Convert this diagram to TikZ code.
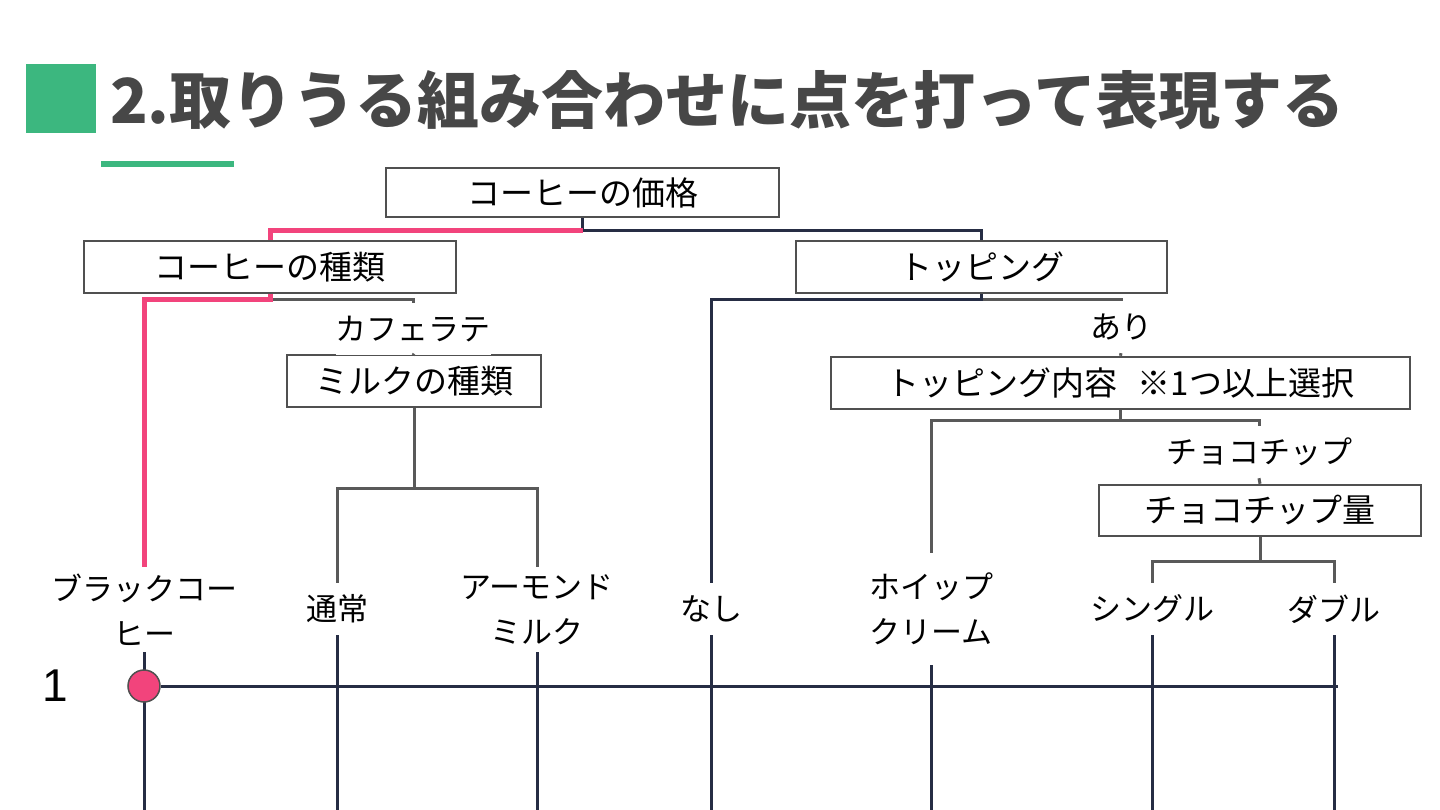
\documentclass[tikz,border=0pt]{standalone}
\usepackage{fontspec}
\setmainfont{Noto Sans CJK JP}
\newfontfamily\digitfont{Liberation Sans}
\definecolor{brandgreen}{HTML}{3CB77F}
\definecolor{titlegray}{HTML}{474747}
\definecolor{boxgray}{HTML}{505050}
\definecolor{treegray}{HTML}{595959}
\definecolor{navy}{HTML}{262D44}
\definecolor{hotpink}{HTML}{F2447C}
\begin{document}
\begin{tikzpicture}[x=1pt, y=-1pt,
	box/.style={draw=boxgray, line width=2.5pt, fill=white, minimum height=52pt, inner sep=0pt, font=\fontsize{33}{40}\selectfont},
	lbl/.style={fill=white, inner sep=0pt, minimum height=52pt, align=center, font=\fontsize{31}{45}\selectfont},
	tree/.style={draw=treegray, line width=3pt},
	gridline/.style={draw=navy, line width=3pt},
	pick/.style={draw=hotpink, line width=5pt},
	dot/.style={circle, fill=hotpink, draw=boxgray, line width=1.5pt, minimum size=32pt, inner sep=0pt}]
		\useasboundingbox (0,0) rectangle (1440,810);
		\fill[brandgreen] (26,64) rectangle (96,133);
		\fill[brandgreen] (101,161) rectangle (234,167);
		\node[anchor=west, inner sep=0pt, text=titlegray, font=\bfseries\fontsize{62}{70}\selectfont] (title) at (110,100) {2.取りうる組み合わせに点を打って表現する};
		\coordinate (floor) at (0,810);
		\node[box, minimum width=393pt, minimum height=49pt] (price) at (582.5,192.5) {コーヒーの価格};
		\node[box, minimum width=372pt] (kind) at (270,267) {コーヒーの種類};
		\node[box, minimum width=371pt] (top) at (981.5,267) {トッピング};
		\node[box, minimum width=254pt] (milk) at (414,381) {ミルクの種類};
		\node[box, minimum width=579pt] (content) at (1120.5,383) {トッピング内容\hspace{0.6em}※1つ以上選択};
		\node[box, minimum width=322pt, minimum height=51pt] (amount) at (1260,510.5) {チョコチップ量};
		\node[lbl] (latte) at (413,329) {カフェラテ};
		\node[lbl] (ari) at (1121,327) {あり};
		\node[lbl] (choco) at (1259,452) {チョコチップ};
		\node[lbl, minimum height=85pt] (black) at (144,609.5) {ブラックコー\\ヒー};
		\node[lbl] (regular) at (337,609) {通常};
		\node[lbl, minimum height=85pt] (almond) at (537,609.5) {アーモンド\\ミルク};
		\node[lbl] (nashi) at (711,609) {なし};
		\node[lbl, minimum height=112pt] (whip) at (931,609) {ホイップ\\クリーム};
		\node[lbl] (single) at (1152,609) {シングル};
		\node[lbl] (double) at (1334,609) {ダブル};
		\draw[tree] (kind.south) ++(0,5) -| (latte.north);
		\draw[tree] (latte.south) -- (milk.north);
		\draw[tree] (milk.south) -- ++(0,80) coordinate (jm) -| (regular.north);
		\draw[tree] (jm) -| (almond.north);
		\draw[tree] (top.south) ++(0,5) -| (ari.north);
		\draw[tree] (ari.south) -- (content.north);
		\draw[tree] (content.south) -- ++(0,10) coordinate (jc) -| (whip.north);
		\draw[tree] (jc) -| (choco.north);
		\draw[tree] (choco.south) -- (amount.north);
		\draw[tree] (amount.south) -- ++(0,24) coordinate (ja) -| (single.north);
		\draw[tree] (ja) -| (double.north);
		\draw[gridline] (price.south) -- ++(0,12) coordinate (jp) -| (top.north);
		\draw[gridline] (top.south) -- ++(0,5) -| (nashi.north);
		\draw[pick] (jp) -| (kind.north);
		\draw[pick] (kind.south) -- ++(0,5) -| (black.north);
		\foreach \leaf in {black, regular, almond, nashi, whip, single, double}
			\draw[gridline] (\leaf.south) -- (\leaf.south |- floor);
		\coordinate (rowend) at (1338,686);
		\node[dot] (p1) at (black.south |- rowend) {};
		\draw[gridline] (p1.east) -- (rowend);
		\node[font=\digitfont\fontsize{46}{50}\selectfont, inner sep=0pt] (row1) at (55,686) {1};
\end{tikzpicture}
\end{document}
